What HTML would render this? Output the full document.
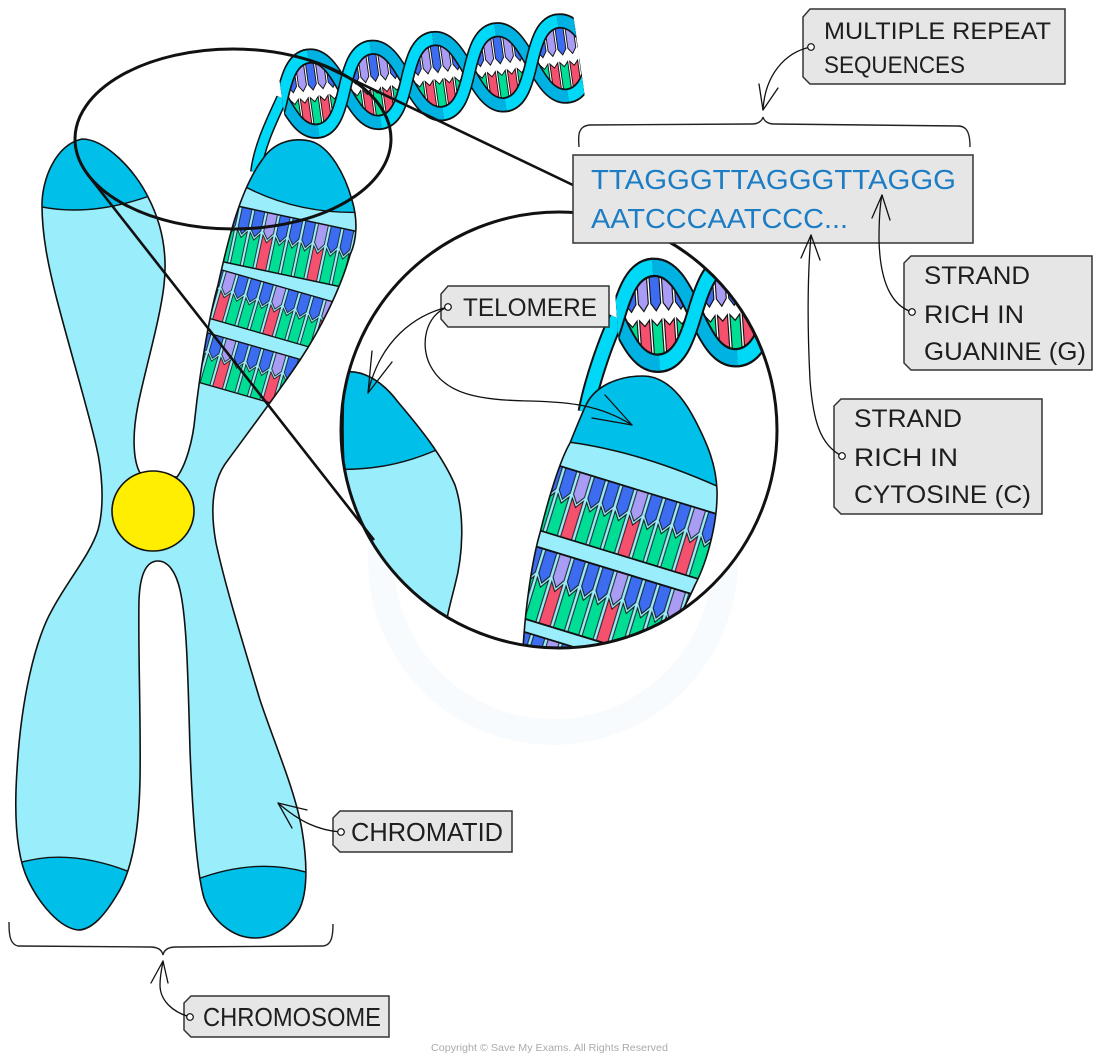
<!DOCTYPE html>
<html><head><meta charset="utf-8"><style>
html,body{margin:0;padding:0;background:#fff;}
svg{display:block;}
text{font-family:"Liberation Sans",sans-serif;}
</style></head><body>
<svg width="1100" height="1062" viewBox="0 0 1100 1062" xmlns="http://www.w3.org/2000/svg" xmlns:xlink="http://www.w3.org/1999/xlink">
<defs>
 <path id="chromo" d="M 82,139 C 105,139 135,170 148,197 C 160,220 168,250 164,285 C 160,320 145,370 138,405 C 132,435 133,460 140,473 L 177,477 C 186,465 193,440 195,417 C 199,380 208,320 218,285 C 228,240 240,190 262,160 C 275,140 295,138 310,141 C 330,146 345,175 352,200 C 358,220 357,240 350,255 C 340,290 320,330 300,360 C 280,390 250,430 228,460 C 212,480 210,510 216,543 C 225,585 242,640 260,700 C 275,745 295,790 302,830 C 307,860 308,890 300,908 C 292,925 275,938 255,938 C 232,938 212,920 204,898 C 196,870 192,800 190,750 C 188,680 187,620 180,590 C 176,572 168,561 158,561 C 146,561 140,575 139,600 C 138,650 141,720 140,780 C 139,830 132,870 118,893 C 105,915 92,930 78,930 C 60,928 40,905 28,880 C 16,855 14,815 17,770 C 21,700 35,640 52,610 C 68,580 90,555 98,530 C 105,505 102,470 96,445 C 88,410 70,350 57,300 C 48,265 42,235 42,205 C 42,180 55,145 82,139 Z"/>
 <clipPath id="cc"><use href="#chromo"/></clipPath>
 <path id="zl" d="M 345,372 C 360,370 380,378 398,402 C 420,428 442,455 455,485 C 465,515 463,555 455,585 C 450,605 447,615 445,632 L 380,560 C 360,535 348,505 344,467 C 342,430 343,400 345,372 Z"/>
 <clipPath id="zlc"><use href="#zl"/></clipPath>
 <path id="zr" d="M 587,403 C 595,388 615,376 643,376 C 665,376 682,395 695,420 C 708,445 716,465 717,490 C 718,520 708,560 695,585 C 685,608 672,628 663,650 L 523,650 C 525,610 532,560 540,533 C 548,500 560,460 570,443 C 576,428 582,413 587,403 Z"/>
 <clipPath id="zrc"><use href="#zr"/></clipPath>
 <clipPath id="circ"><circle cx="559" cy="430" r="217"/></clipPath>
 <clipPath id="hclip"><rect x="0" y="-70" width="300" height="140"/></clipPath>

 <pattern id="bp" width="52" height="50" patternUnits="userSpaceOnUse">
  <rect width="52" height="50" fill="#9aedfb"/>
  <g stroke="#111" stroke-width="0.8">
   <polygon points="1.5,0 11.5,0 11.5,17 6.5,23 1.5,17" fill="#3c6cf0"/>
   <polygon points="1.5,20 6.5,26 11.5,20 11.5,50 1.5,50" fill="#00de96"/>
   <polygon points="14.5,0 24.5,0 24.5,17 19.5,23 14.5,17" fill="#3c6cf0"/>
   <polygon points="14.5,20 19.5,26 24.5,20 24.5,50 14.5,50" fill="#00de96"/>
   <polygon points="27.5,0 37.5,0 37.5,17 32.5,23 27.5,17" fill="#a99cf5"/>
   <polygon points="27.5,20 32.5,26 37.5,20 37.5,50 27.5,50" fill="#f5506e"/>
   <polygon points="40.5,0 50.5,0 50.5,17 45.5,23 40.5,17" fill="#3c6cf0"/>
   <polygon points="40.5,20 45.5,26 50.5,20 50.5,50 40.5,50" fill="#00de96"/>
  </g>
 </pattern>
 <g id="row">
  <rect x="0" y="0" width="260" height="50" fill="url(#bp)"/>
  <path d="M0,0H260M0,50H260" stroke="#111" stroke-width="1.3" fill="none"/>
 </g>

 <polygon id="bt" points="-4,-36 4,-36 4,-8 0,-3 -4,-8" stroke="#111" stroke-width="0.9"/>
 <polygon id="bb" points="-4,3 0,7 4,3 4,36 -4,36" stroke="#111" stroke-width="0.9"/>
 <clipPath id="lens"><path d="M0,0 c 7.9,17.6 15.75,32 31.5,32 s 23.6,-14.4 31.5,-32 c -7.9,-17.6 -15.75,-32 -31.5,-32 s -23.6,14.4 -31.5,32 z"/></clipPath>
 <g id="bases" clip-path="url(#lens)">
  <rect x="0" y="-40" width="63" height="80" fill="#00b4e2"/>
  <rect x="6" y="-40" width="52" height="80" fill="#fff"/>
  <use href="#bt" x="12" fill="#3c6cf0"/><use href="#bb" x="12" fill="#00de96"/>
  <use href="#bt" x="22" fill="#a99cf5"/><use href="#bb" x="22" fill="#f5506e"/>
  <use href="#bt" x="32" fill="#3c6cf0"/><use href="#bb" x="32" fill="#00de96"/>
  <use href="#bt" x="42" fill="#a99cf5"/><use href="#bb" x="42" fill="#f5506e"/>
  <use href="#bt" x="52" fill="#3c6cf0"/><use href="#bb" x="52" fill="#00de96"/>
 </g>
 <path id="s1" d="M0,0 c 7.9,17.6 15.75,32 31.5,32 s 23.6,-14.4 31.5,-32 s 15.75,-32 31.5,-32 s 23.6,14.4 31.5,32 s 15.75,32 31.5,32 s 23.6,-14.4 31.5,-32 s 15.75,-32 31.5,-32 s 23.6,14.4 31.5,32 s 15.75,32 31.5,32 s 23.6,-14.4 31.5,-32"/>
 <path id="s2" d="M0,0 c 7.9,-17.6 15.75,-32 31.5,-32 s 23.6,14.4 31.5,32 s 15.75,32 31.5,32 s 23.6,-14.4 31.5,-32 s 15.75,-32 31.5,-32 s 23.6,14.4 31.5,32 s 15.75,32 31.5,32 s 23.6,-14.4 31.5,-32 s 15.75,-32 31.5,-32 s 23.6,14.4 31.5,32"/>
 <path id="rise" d="M-31.5,32 c 15.75,0 23.6,-14.4 31.5,-32 s 15.75,-32 31.5,-32"/>
 <g id="rises"><use href="#rise"/><use href="#rise" x="63"/><use href="#rise" x="126"/><use href="#rise" x="189"/><use href="#rise" x="252"/><use href="#rise" x="315"/></g>
 <g id="helix">
  <g clip-path="url(#hclip)">
   <use href="#bases"/><use href="#bases" x="63"/><use href="#bases" x="126"/><use href="#bases" x="189"/><use href="#bases" x="252"/>
   <g fill="none">
    <use href="#s1" stroke="#111" stroke-width="13"/>
    <use href="#s2" stroke="#111" stroke-width="13"/>
    <use href="#s1" stroke="#00b2e2" stroke-width="10"/>
    <use href="#s2" stroke="#00b2e2" stroke-width="10"/>
    <use href="#rises" stroke="#111" stroke-width="13"/>
    <use href="#rises" stroke="#00d8f8" stroke-width="10"/>
   </g>
  </g>
 </g>
</defs>

<rect width="1100" height="1062" fill="#fff"/>
<!-- faint watermark -->
<circle cx="553" cy="560" r="172" fill="none" stroke="#f8fbfd" stroke-width="26"/>

<!-- big circle white background -->
<circle cx="559" cy="430" r="218" fill="#fff"/>

<!-- top DNA -->
<path d="M 256,172 C 259,145 274,116 282,98" fill="none" stroke="#111" stroke-width="12"/>
<path d="M 256,172 C 259,145 274,116 282,98" fill="none" stroke="#00d8f8" stroke-width="9"/>
<use href="#helix" transform="translate(282,98) rotate(-8) scale(1,1.18)"/>

<!-- chromosome -->
<use href="#chromo" fill="#9aedfb"/>
<g clip-path="url(#cc)">
 <use href="#row" transform="translate(190,196) rotate(12) scale(1,1.15)"/>
 <use href="#row" transform="translate(200,263.7) rotate(16)"/>
 <use href="#row" transform="translate(200,330.7) rotate(16)"/>
 <path d="M 20,201 Q 80,222 155,194 L 155,100 L 20,100 Z" fill="#00bfe8"/>
 <path d="M 240,184 Q 298,216 370,212 L 370,100 L 240,100 Z" fill="#00bfe8"/>
 <path d="M 10,866 Q 65,845 135,874 L 135,960 L 10,960 Z" fill="#00bfe8"/>
 <path d="M 195,880 Q 258,856 312,874 L 312,960 L 195,960 Z" fill="#00bfe8"/>
 <g fill="none" stroke="#111" stroke-width="1.4">
  <path d="M 20,201 Q 80,222 155,194"/>
  <path d="M 240,184 Q 298,216 370,212"/>
  <path d="M 10,866 Q 65,845 135,874"/>
  <path d="M 195,880 Q 258,856 312,874"/>
 </g>
</g>
<use href="#chromo" fill="none" stroke="#111" stroke-width="1.6"/>
<ellipse cx="153" cy="511" rx="41" ry="40" fill="#ffee00" stroke="#111" stroke-width="1.6"/>

<!-- magnified circle content -->
<g clip-path="url(#circ)">
 <path d="M 586,412 C 592,380 607,338 617,318" fill="none" stroke="#111" stroke-width="17"/>
 <path d="M 586,412 C 592,380 607,338 617,318" fill="none" stroke="#00d8f8" stroke-width="13"/>
 <use href="#helix" transform="translate(617,318) rotate(-4) scale(1.24,1.5)"/>

 <use href="#zl" fill="#9aedfb"/>
 <g clip-path="url(#zlc)">
  <path d="M 320,468 Q 385,475 445,446 L 445,300 L 320,300 Z" fill="#00bfe8"/>
  <path d="M 320,468 Q 385,475 445,446" fill="none" stroke="#111" stroke-width="1.5"/>
 </g>
 <use href="#zl" fill="none" stroke="#111" stroke-width="1.6"/>

 <use href="#zr" fill="#9aedfb"/>
 <g clip-path="url(#zrc)">
  <use href="#row" transform="translate(550,463) rotate(17) scale(1.15,1.35)"/>
  <use href="#row" transform="translate(530,544.6) rotate(17) scale(1.15,1.45)"/>
  <use href="#row" transform="translate(518,630) rotate(17) scale(1.15,1.35)"/>
  <path d="M 560,441 Q 640,450 730,492 L 730,350 L 560,350 Z" fill="#00bfe8"/>
  <path d="M 560,441 Q 640,450 730,492" fill="none" stroke="#111" stroke-width="1.5"/>
 </g>
 <use href="#zr" fill="none" stroke="#111" stroke-width="1.6"/>
</g>
<circle cx="559" cy="430" r="218" fill="none" stroke="#111" stroke-width="3"/>

<!-- zoom ellipse and lines -->
<ellipse cx="233" cy="139" rx="158" ry="90" fill="none" stroke="#111" stroke-width="3"/>
<line x1="88" y1="175" x2="374" y2="540" stroke="#111" stroke-width="2.6"/>
<line x1="318" y1="63" x2="575" y2="186" stroke="#111" stroke-width="2.6"/>

<!-- sequence box -->
<rect x="573" y="155" width="400" height="88" fill="#e6e6e6" stroke="#333" stroke-width="1.5"/>
<text x="591" y="189" font-size="28" fill="#1c7dc4" textLength="365" lengthAdjust="spacingAndGlyphs">TTAGGGTTAGGGTTAGGG</text>
<text x="591" y="228" font-size="28" fill="#1c7dc4" textLength="257" lengthAdjust="spacingAndGlyphs">AATCCCAATCCC...</text>

<!-- braces -->
<g fill="none" stroke="#222" stroke-width="1.4">
 <path d="M 579,147 C 578,135 578,126 590,125 L 752,124 C 758,124 762,121 763,117 C 764,121 768,124 774,124 L 958,126 C 968,126 970,135 970,147"/>
 <path d="M 9,922 C 9,932 9,944 18,946 L 150,947 C 158,947 162,950 163,955 C 164,950 168,947 176,947 L 322,946 C 332,946 333,935 333,924"/>
</g>

<!-- labels -->
<g fill="#e6e6e6" stroke="#333" stroke-width="1.5">
 <polygon points="810,9 1065,9 1065,84 810,84 803,77 803,17"/>
 <polygon points="911,256 1092,256 1092,370 911,370 904,363 904,263"/>
 <polygon points="841,399 1042,399 1042,514 841,514 834,507 834,406"/>
 <polygon points="448,286 609,286 609,327 448,327 441,319 441,294"/>
 <polygon points="340,811 512,811 512,852 340,852 333,845 333,818"/>
 <polygon points="191,996 389,996 389,1037 191,1037 184,1030 184,1003"/>
</g>
<g fill="#1e1e1e">
 <text x="824" y="39" font-size="24" textLength="227" lengthAdjust="spacingAndGlyphs">MULTIPLE REPEAT</text>
 <text x="824" y="73" font-size="24" textLength="141" lengthAdjust="spacingAndGlyphs">SEQUENCES</text>
 <text x="924" y="284" font-size="25" textLength="106" lengthAdjust="spacingAndGlyphs">STRAND</text>
 <text x="924" y="323" font-size="25" textLength="100" lengthAdjust="spacingAndGlyphs">RICH IN</text>
 <text x="924" y="360" font-size="25" textLength="162" lengthAdjust="spacingAndGlyphs">GUANINE (G)</text>
 <text x="854" y="427" font-size="25" textLength="108" lengthAdjust="spacingAndGlyphs">STRAND</text>
 <text x="854" y="466" font-size="25" textLength="104" lengthAdjust="spacingAndGlyphs">RICH IN</text>
 <text x="854" y="503" font-size="25" textLength="177" lengthAdjust="spacingAndGlyphs">CYTOSINE (C)</text>
 <text x="463" y="316" font-size="25" textLength="134" lengthAdjust="spacingAndGlyphs">TELOMERE</text>
 <text x="351" y="841" font-size="26" textLength="152" lengthAdjust="spacingAndGlyphs">CHROMATID</text>
 <text x="203" y="1026" font-size="26" textLength="178" lengthAdjust="spacingAndGlyphs">CHROMOSOME</text>
</g>

<!-- arrows -->
<g fill="none" stroke="#111" stroke-width="1.3" stroke-linecap="round" stroke-linejoin="round">
 <path d="M 811,47 C 785,52 765,75 763,110"/>
 <path d="M 759,84 L 763,110 L 778,88"/>
 <path d="M 912,312 C 890,305 880,280 879,240 C 879,220 880,205 882,195"/>
 <path d="M 872,218 L 882,195 L 890,220"/>
 <path d="M 842,456 C 820,445 813,420 810,380 C 807,320 808,270 811,235"/>
 <path d="M 801,258 L 811,235 L 820,260"/>
 <path d="M 448,307 C 415,315 380,340 368,393"/>
 <path d="M 372,351 L 368,393 L 392,362"/>
 <path d="M 448,307 C 425,315 420,345 430,365 C 445,395 480,400 530,401 C 570,402 600,405 632,425"/>
 <path d="M 605,395 L 632,425 L 592,418"/>
 <path d="M 340,832 C 318,830 300,822 278,803"/>
 <path d="M 307,810 L 278,803 L 292,828"/>
 <path d="M 190,1017 C 172,1012 160,1000 160,985 C 160,975 162,968 163,961"/>
 <path d="M 151,983 L 163,961 L 168,983"/>
</g>
<g fill="#fff" stroke="#111" stroke-width="1.2">
 <circle cx="811" cy="47" r="3.3"/>
 <circle cx="912" cy="312" r="3.3"/>
 <circle cx="842" cy="456" r="3.3"/>
 <circle cx="448" cy="307" r="3.3"/>
 <circle cx="341" cy="832" r="3.3"/>
 <circle cx="190" cy="1017" r="3.3"/>
</g>

<text x="431" y="1051" font-size="10.5" fill="#aaa" textLength="237" lengthAdjust="spacingAndGlyphs">Copyright © Save My Exams. All Rights Reserved</text>
</svg>
</body></html>
